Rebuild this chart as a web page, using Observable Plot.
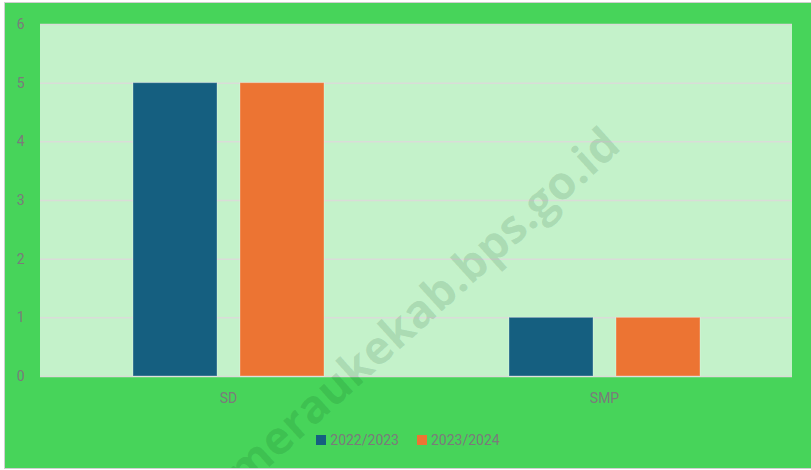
<!DOCTYPE html>
<html>
<head>
<meta charset="utf-8">
<script src="https://cdn.jsdelivr.net/npm/d3@7"></script>
<script src="https://cdn.jsdelivr.net/npm/@observablehq/plot@0.6"></script>
<style>
  html, body { margin: 0; padding: 0; background: #ffffff; }
  #frame {
    position: absolute; left: 4px; top: 2px; width: 806px; height: 465px;
    background: #47d45a; border-left: 1px solid #d0d0d0; border-top: 1px solid #d0d0d0;
    border-bottom: 1px solid #d0d0d0; overflow: hidden;
    font-family: Roboto, "Noto Sans", sans-serif;
  }
  #plotbg { position: absolute; left: 35px; top: 21px; width: 752px; height: 352px; background: #c4f2ca; }
  #chart { position: absolute; left: 0; top: 0; }
  #legend {
    position: absolute; left: 0; width: 806px; top: 429px;
    display: flex; justify-content: center; gap: 18px;
    font-size: 14px; color: #7b7b7b;
  }
  .item { display: flex; align-items: center; }
  .sw { width: 10px; height: 10px; margin-right: 4px; }
  #wm {
    position: absolute; left: 416px; top: 303px;
    transform: translate(-50%, -50%) rotate(-42deg);
    font-family: "Open Sans", Roboto, sans-serif; font-weight: 700; font-size: 46px;
    color: rgba(0, 60, 20, 0.13); white-space: nowrap; pointer-events: none;
  }
</style>
</head>
<body>
<div id="frame">
  <div id="plotbg"></div>
  <div id="chart"></div>
  <div id="legend"></div>
  <div id="wm">meraukekab.bps.go.id</div>
</div>
<script>
const categories = ["SD", "SMP"];
const years = ["2022/2023", "2023/2024"];
const values2022 = [5, 1];
const values2023 = [5, 1];
const colors = ["#155f80", "#ec7433"];
const yTicks = [0, 1, 2, 3, 4, 5, 6];

const data = [];
categories.forEach((c, i) => {
  data.push({category: c, year: years[0], value: values2022[i]});
  data.push({category: c, year: years[1], value: values2023[i]});
});

const chart = Plot.plot({
  width: 806,
  height: 420,
  marginLeft: 35,
  marginRight: 19,
  marginTop: 21,
  marginBottom: 47,
  style: {background: "transparent", fontFamily: "Roboto, 'Noto Sans', sans-serif", fontSize: "14px", color: "#7b7b7b"},
  fx: {domain: categories, padding: 0, label: null, tickSize: 0, tickPadding: 17},
  x: {domain: years, axis: null, paddingInner: 0.215, paddingOuter: 0.8645},
  y: {domain: [0, 6], ticks: yTicks, tickSize: 0, tickPadding: 16, label: null, tickFormat: d3.format("d")},
  color: {domain: years, range: colors},
  marks: [
    Plot.ruleY(yTicks, {stroke: "#dadcd8", strokeWidth: 1.5}),
    Plot.barY(data, {fx: "category", x: "year", y: "value", fill: "year", stroke: "#ffffff", strokeOpacity: 0.3, strokeWidth: 1})
  ]
});
document.getElementById("chart").appendChild(chart);

const legend = document.getElementById("legend");
years.forEach((y, i) => {
  const item = document.createElement("div");
  item.className = "item";
  const sw = document.createElement("div");
  sw.className = "sw";
  sw.style.background = colors[i];
  const t = document.createElement("span");
  t.textContent = y;
  item.appendChild(sw);
  item.appendChild(t);
  legend.appendChild(item);
});
</script>
</body>
</html>
